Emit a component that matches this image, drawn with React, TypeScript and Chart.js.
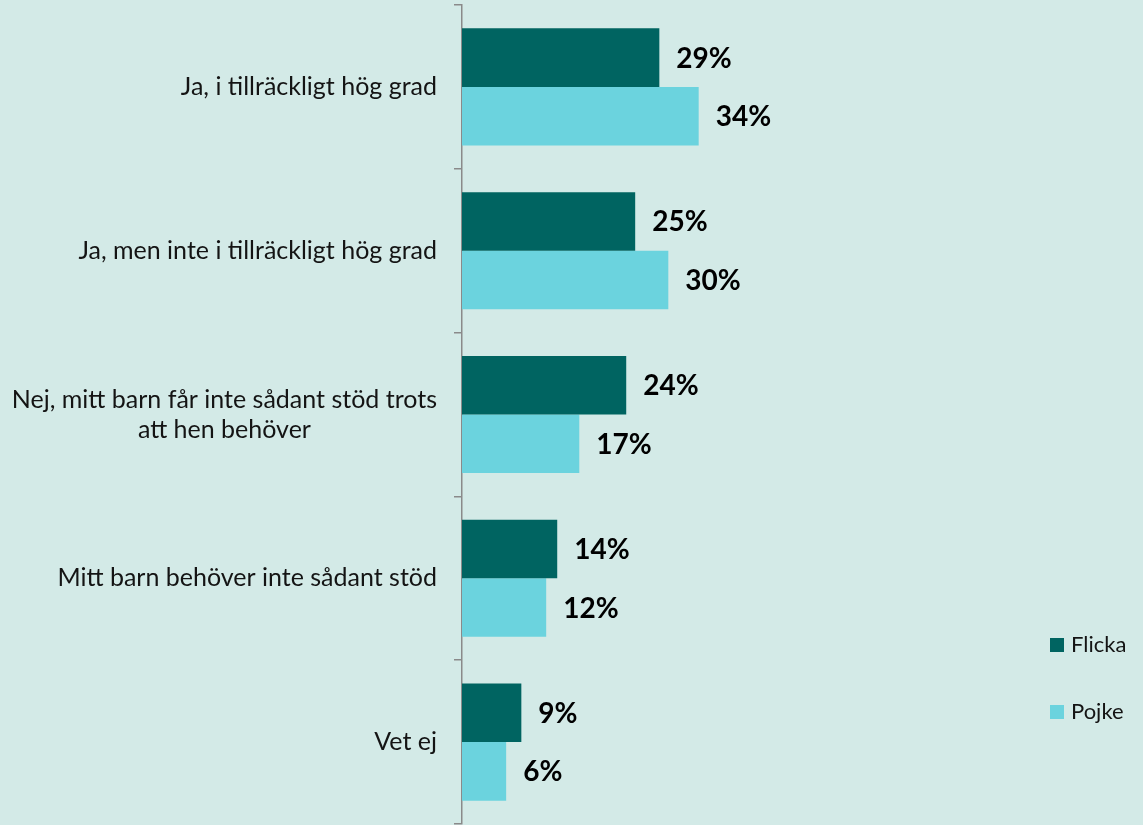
import React, { useEffect, useRef } from "react";
import { Chart, registerables } from "chart.js";

Chart.register(...registerables);

const categories: string[][] = [
  ["Ja, i tillräckligt hög grad"],
  ["Ja, men inte i tillräckligt hög grad"],
  ["Nej, mitt barn får inte sådant stöd trots", "att hen behöver"],
  ["Mitt barn behöver inte sådant stöd"],
  ["Vet ej"],
];
const seriesNames = ["Flicka", "Pojke"];
const flicka = [28.6, 25.1, 23.8, 13.8, 8.6];
const pojke = [34.3, 29.9, 17.0, 12.2, 6.4];
const seriesColors = ["#006461", "#6bd3de"];

const BG = "#d3eae7";
const FONT = "Lato, 'Noto Sans', sans-serif";

export default function App() {
  const ref = useRef<HTMLCanvasElement | null>(null);

  useEffect(() => {
    document.body.style.margin = "0";
    document.body.style.background = BG;
    const canvas = ref.current;
    if (!canvas) return;

    const bgPlugin = {
      id: "bg",
      beforeDraw(chart: any) {
        const ctx = chart.ctx;
        ctx.save();
        ctx.fillStyle = BG;
        ctx.fillRect(0, 0, chart.width, chart.height);
        ctx.restore();
      },
    };

    const labelsPlugin = {
      id: "customLabels",
      afterDraw(chart: any) {
        const ctx = chart.ctx;
        const yScale = chart.scales.y;
        ctx.save();
        // category labels
        ctx.font = `25px ${FONT}`;
        ctx.fillStyle = "#141414";
        ctx.textBaseline = "middle";
        ctx.textAlign = "center";
        const xRight = 437;
        const lh = 30;
        categories.forEach((lines, i) => {
          const y = yScale.getPixelForValue(i);
          const widest = Math.max(...lines.map((l) => ctx.measureText(l).width));
          const cx = xRight - widest / 2;
          lines.forEach((line, j) => {
            ctx.fillText(line, cx, y + (j - (lines.length - 1) / 2) * lh);
          });
        });
        // value labels
        ctx.font = `bold 28px ${FONT}`;
        ctx.fillStyle = "#000000";
        ctx.textAlign = "left";
        chart.data.datasets.forEach((ds: any, di: number) => {
          const meta = chart.getDatasetMeta(di);
          meta.data.forEach((bar: any, i: number) => {
            const v = ds.data[i] as number;
            ctx.fillText(`${Math.round(v)}%`, bar.x + 17, bar.y + 1);
          });
        });
        // legend
        ctx.font = `22px ${FONT}`;
        const legendY = [645, 712];
        seriesNames.forEach((name, i) => {
          ctx.fillStyle = seriesColors[i];
          ctx.fillRect(1050, legendY[i] - 7, 14, 14);
          ctx.fillStyle = "#141414";
          ctx.fillText(name, 1071, legendY[i]);
        });
        ctx.restore();
      },
    };

    const chart = new Chart(canvas, {
      type: "bar",
      data: {
        labels: categories.map((c) => c.join(" ")),
        datasets: seriesNames.map((name, i) => ({
          label: name,
          data: i === 0 ? flicka : pojke,
          backgroundColor: seriesColors[i],
          borderWidth: 0,
          categoryPercentage: 0.715,
          barPercentage: 1,
        })),
      },
      options: {
        indexAxis: "y",
        responsive: false,
        animation: false,
        layout: { padding: { top: 5, bottom: 1, left: 0, right: 129 } },
        plugins: {
          legend: { display: false },
          tooltip: { enabled: false },
        },
        scales: {
          x: { display: false, min: 0, max: 80 },
          y: {
            type: "category",
            offset: true,
            afterFit(scale: any) {
              scale.width = 462;
            },
            grid: {
              offset: true,
              drawOnChartArea: false,
              drawTicks: true,
              tickLength: 8,
              color: "#8a8a8a",
              lineWidth: 1.5,
            },
            border: { display: true, color: "#8a8a8a", width: 1.5 },
            ticks: { display: false },
          },
        },
      },
      plugins: [bgPlugin, labelsPlugin],
    } as any);

    return () => chart.destroy();
  }, []);

  return <canvas ref={ref} width={1143} height={825} style={{ display: "block" }} />;
}
